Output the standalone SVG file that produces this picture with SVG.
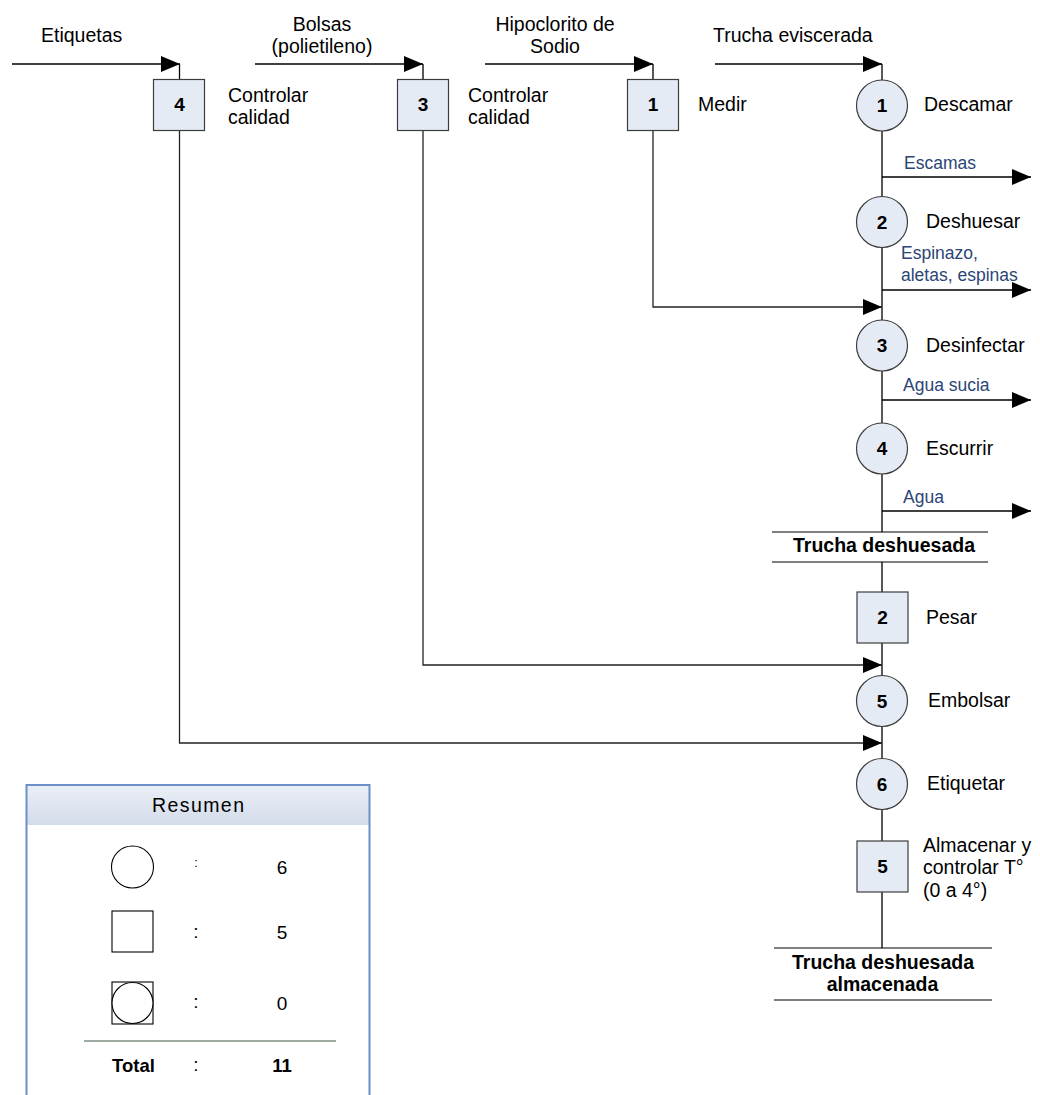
<svg xmlns="http://www.w3.org/2000/svg" width="1040" height="1095" viewBox="0 0 1040 1095">
  <defs>
    <marker id="arrow" markerWidth="19" markerHeight="16" refX="19" refY="8" orient="auto" markerUnits="userSpaceOnUse">
      <path d="M0,0 L19,8 L0,16 Z" fill="#000"/>
    </marker>
    <linearGradient id="hdr" x1="0" y1="0" x2="0" y2="1">
      <stop offset="0" stop-color="#ebeff7"/>
      <stop offset="1" stop-color="#d3dcea"/>
    </linearGradient>
    <style>
      text { font-family: "Liberation Sans", Arial, sans-serif; fill: #000; }
      .lbl { font-size: 19.5px; }
      .num { font-size: 19px; font-weight: bold; text-anchor: middle; }
      .out { font-size: 17.5px; fill: #2b4576; }
      .bold { font-size: 19.5px; font-weight: bold; text-anchor: middle; }
      .mid { text-anchor: middle; }
      .sum { font-size: 19px; }
      .node { fill: #e5ebf4; stroke: #3c3c3c; stroke-width: 1.2; }
      .wire { fill: none; stroke: #000; stroke-width: 1.3; }
      .wire-in { fill: none; stroke: #222; stroke-width: 1.3; }
      .bar { stroke: #000; stroke-width: 1.2; }
      .icon { fill: #fff; stroke: #000; stroke-width: 1.1; }
    </style>
  </defs>

  <rect width="1040" height="1095" fill="#fff"/>

  <!-- connectors -->
  <g id="connectors">
    <!-- main process line -->
    <path class="wire" d="M882,64 V532 M882,562 V948"/>
    <!-- material inputs along the top -->
    <path class="wire" d="M12,64 H180" marker-end="url(#arrow)"/>
    <path class="wire" d="M255,64 H423" marker-end="url(#arrow)"/>
    <path class="wire" d="M485,64 H653" marker-end="url(#arrow)"/>
    <path class="wire" d="M715,64 H882" marker-end="url(#arrow)"/>
    <path class="wire" d="M179.5,64 V80 M423,64 V80 M653,64 V80"/>
    <!-- inspected inputs feeding the main line -->
    <path class="wire-in" d="M653,130 V307 H882" marker-end="url(#arrow)"/>
    <path class="wire-in" d="M423,130 V665 H882" marker-end="url(#arrow)"/>
    <path class="wire-in" d="M179.5,130 V743 H882" marker-end="url(#arrow)"/>
    <!-- by-product outputs -->
    <path class="wire" d="M882,177 H1031" marker-end="url(#arrow)"/>
    <path class="wire" d="M882,290 H1031" marker-end="url(#arrow)"/>
    <path class="wire" d="M882,400 H1031" marker-end="url(#arrow)"/>
    <path class="wire" d="M882,511 H1031" marker-end="url(#arrow)"/>
  </g>

  <!-- input labels -->
  <text class="lbl" x="41" y="41.5">Etiquetas</text>
  <text class="lbl mid" x="322" y="30.5">Bolsas</text>
  <text class="lbl mid" x="322" y="52.5">(polietileno)</text>
  <text class="lbl mid" x="555" y="30.5">Hipoclorito de</text>
  <text class="lbl mid" x="555" y="52.5">Sodio</text>
  <text class="lbl" x="713" y="42">Trucha eviscerada</text>

  <!-- output labels -->
  <text class="out" x="904" y="169">Escamas</text>
  <text class="out" x="901" y="259">Espinazo,</text>
  <text class="out" x="901" y="281">aletas, espinas</text>
  <text class="out" x="903" y="391">Agua sucia</text>
  <text class="out" x="903" y="503">Agua</text>

  <!-- inspections on inputs -->
  <g id="insp4">
    <rect class="node" x="153.5" y="79.5" width="51" height="51"/>
    <text class="num" x="179.5" y="111">4</text>
    <text class="lbl" x="228" y="101.5">Controlar</text>
    <text class="lbl" x="228" y="123.5">calidad</text>
  </g>
  <g id="insp3">
    <rect class="node" x="397.5" y="79.5" width="51" height="51"/>
    <text class="num" x="423" y="111">3</text>
    <text class="lbl" x="468" y="101.5">Controlar</text>
    <text class="lbl" x="468" y="123.5">calidad</text>
  </g>
  <g id="insp1">
    <rect class="node" x="627.5" y="79.5" width="51" height="51"/>
    <text class="num" x="653" y="111">1</text>
    <text class="lbl" x="698" y="110.5">Medir</text>
  </g>

  <!-- operations on the main line -->
  <g id="op1">
    <circle class="node" cx="882" cy="105.5" r="25.5"/>
    <text class="num" x="882" y="112">1</text>
    <text class="lbl" x="924" y="110.5">Descamar</text>
  </g>
  <g id="op2">
    <circle class="node" cx="882" cy="222" r="25.5"/>
    <text class="num" x="882" y="228.5">2</text>
    <text class="lbl" x="926" y="227.5">Deshuesar</text>
  </g>
  <g id="op3">
    <circle class="node" cx="882" cy="345.5" r="25.5"/>
    <text class="num" x="882" y="352">3</text>
    <text class="lbl" x="926" y="351.5">Desinfectar</text>
  </g>
  <g id="op4">
    <circle class="node" cx="882" cy="448.5" r="25.5"/>
    <text class="num" x="882" y="455">4</text>
    <text class="lbl" x="926" y="454.5">Escurrir</text>
  </g>

  <g id="mid-product">
    <line class="bar" x1="772" y1="532" x2="988" y2="532"/>
    <line class="bar" x1="772" y1="562" x2="988" y2="562"/>
    <text class="bold" x="884" y="552">Trucha deshuesada</text>
  </g>

  <g id="insp2">
    <rect class="node" x="857" y="592" width="51" height="51"/>
    <text class="num" x="882.5" y="624">2</text>
    <text class="lbl" x="926" y="624">Pesar</text>
  </g>
  <g id="op5">
    <circle class="node" cx="882" cy="701" r="25.5"/>
    <text class="num" x="882" y="707.5">5</text>
    <text class="lbl" x="928" y="707">Embolsar</text>
  </g>
  <g id="op6">
    <circle class="node" cx="882" cy="784" r="25.5"/>
    <text class="num" x="882" y="790.5">6</text>
    <text class="lbl" x="927" y="790">Etiquetar</text>
  </g>
  <g id="insp5">
    <rect class="node" x="857" y="841" width="51" height="51"/>
    <text class="num" x="882.5" y="873">5</text>
    <text class="lbl" x="923" y="851.5">Almacenar y</text>
    <text class="lbl" x="923" y="874">controlar T°</text>
    <text class="lbl" x="923" y="896.5">(0 a 4°)</text>
  </g>

  <g id="end-product">
    <line class="bar" x1="774" y1="948" x2="992" y2="948"/>
    <line class="bar" x1="774" y1="1000" x2="992" y2="1000"/>
    <text class="bold" x="883" y="968.5">Trucha deshuesada</text>
    <text class="bold" x="882.5" y="990.5">almacenada</text>
  </g>

  <!-- summary table -->
  <g id="summary">
    <rect x="26.5" y="785" width="343" height="40" fill="url(#hdr)"/>
    <path d="M26.5,1095 V785 H369.5 V1095" fill="none" stroke="#6b8fc9" stroke-width="2"/>
    <text class="mid" x="198" y="812" style="font-size:19.5px" textLength="92" lengthAdjust="spacing">Resumen</text>

    <circle class="icon" cx="132.5" cy="867" r="21"/>
    <text class="mid" x="196" y="866.5" style="font-size:13px">:</text>
    <text class="sum mid" x="282" y="873.5">6</text>

    <rect class="icon" x="112" y="911" width="41" height="41"/>
    <text class="sum mid" x="196" y="938">:</text>
    <text class="sum mid" x="282" y="939">5</text>

    <rect class="icon" x="112" y="982" width="41" height="42"/>
    <circle class="icon" cx="132.5" cy="1003" r="20.5"/>
    <text class="sum mid" x="196" y="1008">:</text>
    <text class="sum mid" x="282" y="1009.5">0</text>

    <line x1="84" y1="1041" x2="336" y2="1041" stroke="#7d8f80" stroke-width="1.3"/>
    <text x="112" y="1071.5" style="font-size:18.5px;font-weight:bold">Total</text>
    <text class="sum mid" x="196" y="1070.5">:</text>
    <text class="mid" x="282" y="1071.5" style="font-size:18.5px;font-weight:bold">11</text>
  </g>
</svg>
